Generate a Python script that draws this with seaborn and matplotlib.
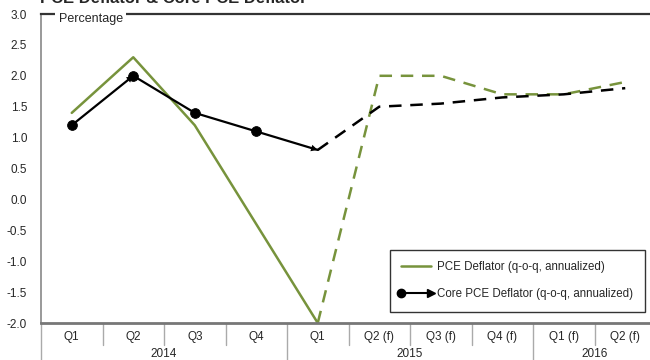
import numpy as np
import pandas as pd
import matplotlib
matplotlib.use("Agg")
import matplotlib.pyplot as plt
from matplotlib.lines import Line2D
from matplotlib.legend_handler import HandlerBase
import seaborn as sns

quarters = ["Q1", "Q2", "Q3", "Q4", "Q1", "Q2 (f)", "Q3 (f)", "Q4 (f)", "Q1 (f)", "Q2 (f)"]
years = ["2014", "2015", "2016"]
year_spans = [(0, 4), (4, 8), (8, 10)]
pce = [1.4, 2.3, 1.2, -0.4, -2.0, 2.0, 2.0, 1.7, 1.7, 1.9]
core = [1.2, 2.0, 1.4, 1.1, 0.8, 1.5, 1.55, 1.65, 1.7, 1.8]
last_actual = 4  # index of the last actual (non-forecast) quarter

GREEN = "#77933C"

sns.set_theme(style="white")
plt.rcParams["font.family"] = ["Liberation Sans", "DejaVu Sans"]

df = pd.DataFrame({"x": np.arange(len(quarters)), "pce": pce, "core": core})
act = df.iloc[: last_actual + 1]
fc = df.iloc[last_actual:]

fig = plt.figure(figsize=(6.5, 3.6), dpi=100)
W, H = 650, 360
ax = fig.add_axes([41 / W, 37 / H, 615 / W, 309 / H])

sns.lineplot(data=act, x="x", y="pce", ax=ax, color=GREEN, lw=1.8)
sns.lineplot(data=fc, x="x", y="pce", ax=ax, color=GREEN, lw=1.8)
ax.lines[-1].set_dashes([5, 3.5])

sns.lineplot(data=act, x="x", y="core", ax=ax, color="black", lw=1.6)
sns.lineplot(data=fc, x="x", y="core", ax=ax, color="black", lw=1.8)
ax.lines[-1].set_dashes([5, 3.5])
sns.scatterplot(data=act.iloc[:last_actual], x="x", y="core", ax=ax,
                color="black", s=50, edgecolor="black", zorder=5)

# arrowheads at the end of the actual core series segments
for i0, i1 in [(0, 1), (3, 4)]:
    ax.annotate("", xy=(df.x[i1], core[i1]), xytext=(df.x[i0], core[i0]),
                arrowprops=dict(arrowstyle="-|>", color="black", lw=0,
                                mutation_scale=12, shrinkA=0, shrinkB=0))

ax.set_xlim(-0.5, len(quarters) - 0.5)
ax.set_ylim(-2.0, 3.0)
yt = np.arange(-2.0, 3.01, 0.5)
ax.set_yticks(yt)
ax.set_yticklabels([f"{v:.1f}" for v in yt], fontsize=8.5)
ax.tick_params(axis="y", length=0, pad=10)
ax.set_xticks([])
ax.set_xlabel("")
ax.set_ylabel("")

ax.spines["right"].set_visible(False)
ax.spines["left"].set_color("#888888")
ax.spines["left"].set_linewidth(1.2)
ax.spines["bottom"].set_color("#777777")
ax.spines["bottom"].set_linewidth(2)
ax.spines["top"].set_color("#333333")
ax.spines["top"].set_linewidth(1.6)

ax.text(0.029, 1 - 5 / 309, "Percentage", transform=ax.transAxes, fontsize=9,
        va="center", ha="left",
        bbox=dict(facecolor="white", edgecolor="none", pad=2.5))

# two-level category axis
trans = ax.get_xaxis_transform()
for i, q in enumerate(quarters):
    ax.text(i, -14 / 309, q, transform=trans, ha="center", va="center",
            fontsize=8.5, clip_on=False)
for b in range(1, len(quarters)):
    if b in (4, 8):
        continue
    ax.plot([b - 0.5, b - 0.5], [0, -22 / 309], transform=trans,
            color="#aaaaaa", lw=1, clip_on=False)
for b in (0, 4, 8):
    ax.plot([b - 0.5, b - 0.5], [0, -40 / 309], transform=trans,
            color="#aaaaaa", lw=1, clip_on=False)
for (a, b), y in zip(year_spans, years):
    ax.text((a + b - 1) / 2, -31 / 309, y, transform=trans, ha="center",
            va="center", fontsize=8.5, clip_on=False)


class CircleArrowHandler(HandlerBase):
    def create_artists(self, legend, orig_handle, xdescent, ydescent,
                       width, height, fontsize, trans):
        y = height / 2 - ydescent
        x0, x1 = -xdescent, width - xdescent
        line = Line2D([x0, x1], [y, y], color="black", lw=1.5, transform=trans)
        dot = Line2D([x0], [y], marker="o", ms=6, color="black", transform=trans)
        tip = Line2D([x1], [y], marker=">", ms=6, color="black", transform=trans)
        return [line, dot, tip]


h1 = Line2D([], [], color=GREEN, lw=1.8)
h2 = Line2D([], [], color="black")
leg = ax.legend([h1, h2],
                ["PCE Deflator (q-o-q, annualized)",
                 "Core PCE Deflator (q-o-q, annualized)"],
                handler_map={h2: CircleArrowHandler()},
                loc="upper left", bbox_to_anchor=((384 - 41) / 615, (323 - 244) / 309),
                fontsize=8.3, frameon=True, fancybox=False, handlelength=2.6,
                labelspacing=1.3, borderpad=1.0, handletextpad=0.5)
leg.get_frame().set_edgecolor("black")
leg.get_frame().set_linewidth(1)

fig.text(40 / W, 1 - 3 / H, "PCE Deflator & Core PCE Deflator", fontsize=12,
         fontweight="bold", ha="left", va="baseline")

fig.savefig("out.png", dpi=100)
